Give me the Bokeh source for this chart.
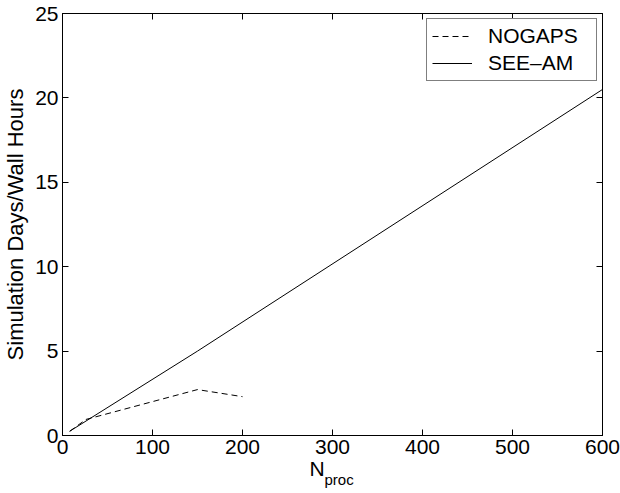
from bokeh.plotting import figure
from bokeh.models import (LinearAxis, Legend, LegendItem, Range1d, FixedTicker,
                          Title, CustomLabelingPolicy)
from bokeh.embed import file_html
from bokeh.resources import INLINE

# data
nogaps_n = [8, 26, 150, 200]
nogaps_v = [0.25, 0.95, 2.72, 2.3]
seeam_n = [8, 150, 600]
seeam_v = [0.25, 5.0, 20.5]
x_ticks = [0, 100, 200, 300, 400, 500, 600]
y_ticks = [0, 5, 10, 15, 20, 25]

FONT = "Liberation Sans"
FS = "21px"

p = figure(width=620, height=493, output_backend="svg", toolbar_location=None,
           x_range=Range1d(0, 600), y_range=Range1d(0, 25),
           min_border_left=61, min_border_right=18, min_border_top=13, min_border_bottom=58)
p.background_fill_color = "white"
p.border_fill_color = "white"
p.xgrid.visible = False
p.ygrid.visible = False
p.outline_line_color = "black"
p.outline_line_width = 1

def style(ax, ticks, labels=True):
    ax.ticker = FixedTicker(ticks=ticks)
    ax.axis_line_color = "black"
    ax.major_tick_line_color = "black"
    ax.major_tick_in = 6
    ax.major_tick_out = 0
    ax.minor_tick_line_color = None
    ax.major_label_text_font = FONT
    ax.major_label_text_color = "black"
    if labels:
        ax.major_label_text_font_size = FS
        ax.major_label_standoff = 4
    else:
        ax.major_label_text_font_size = "0px"
        ax.major_label_standoff = 0
        ax.major_label_policy = CustomLabelingPolicy(code="return []")

style(p.xaxis[0], x_ticks)
style(p.yaxis[0], y_ticks)
p.xaxis[0].axis_label = None
p.yaxis[0].axis_label = "Simulation Days/Wall Hours"
p.yaxis[0].axis_label_text_font = FONT
p.yaxis[0].axis_label_text_font_style = "normal"
p.yaxis[0].axis_label_text_font_size = "22px"
p.yaxis[0].axis_label_text_color = "black"
p.yaxis[0].axis_label_standoff = 4

top = LinearAxis()
style(top, x_ticks, labels=False)
p.add_layout(top, "above")
right = LinearAxis()
style(right, y_ticks, labels=False)
p.add_layout(right, "right")

r1 = p.line(nogaps_n, nogaps_v, line_color="black", line_width=1, line_dash="6 4")
r2 = p.line(seeam_n, seeam_v, line_color="black", line_width=1)

legend = Legend(items=[LegendItem(label="NOGAPS", renderers=[r1]),
                       LegendItem(label="SEE\u2013AM", renderers=[r2])],
                location="top_right")
legend.label_text_font = FONT
legend.label_text_font_size = FS
legend.label_text_color = "black"
legend.border_line_color = "black"
legend.border_line_width = 1
legend.glyph_width = 40
legend.glyph_height = 22
legend.label_height = 22
legend.label_width = 103
legend.label_standoff = 16
legend.spacing = 3
legend.padding = 5
legend.margin = 5
legend.background_fill_alpha = 1
p.add_layout(legend)

# x-axis label: N with subscript "proc"
t_n = Title(text="N", align="left", offset=247, standoff=-4,
            text_font=FONT, text_font_size=FS, text_font_style="normal", text_color="black")
t_sub = Title(text="proc", align="left", offset=262, standoff=-17,
              text_font=FONT, text_font_size="15px", text_font_style="normal", text_color="black")
p.add_layout(t_n, "below")
p.add_layout(t_sub, "below")

open("out.html", "w").write(file_html(p, INLINE))
